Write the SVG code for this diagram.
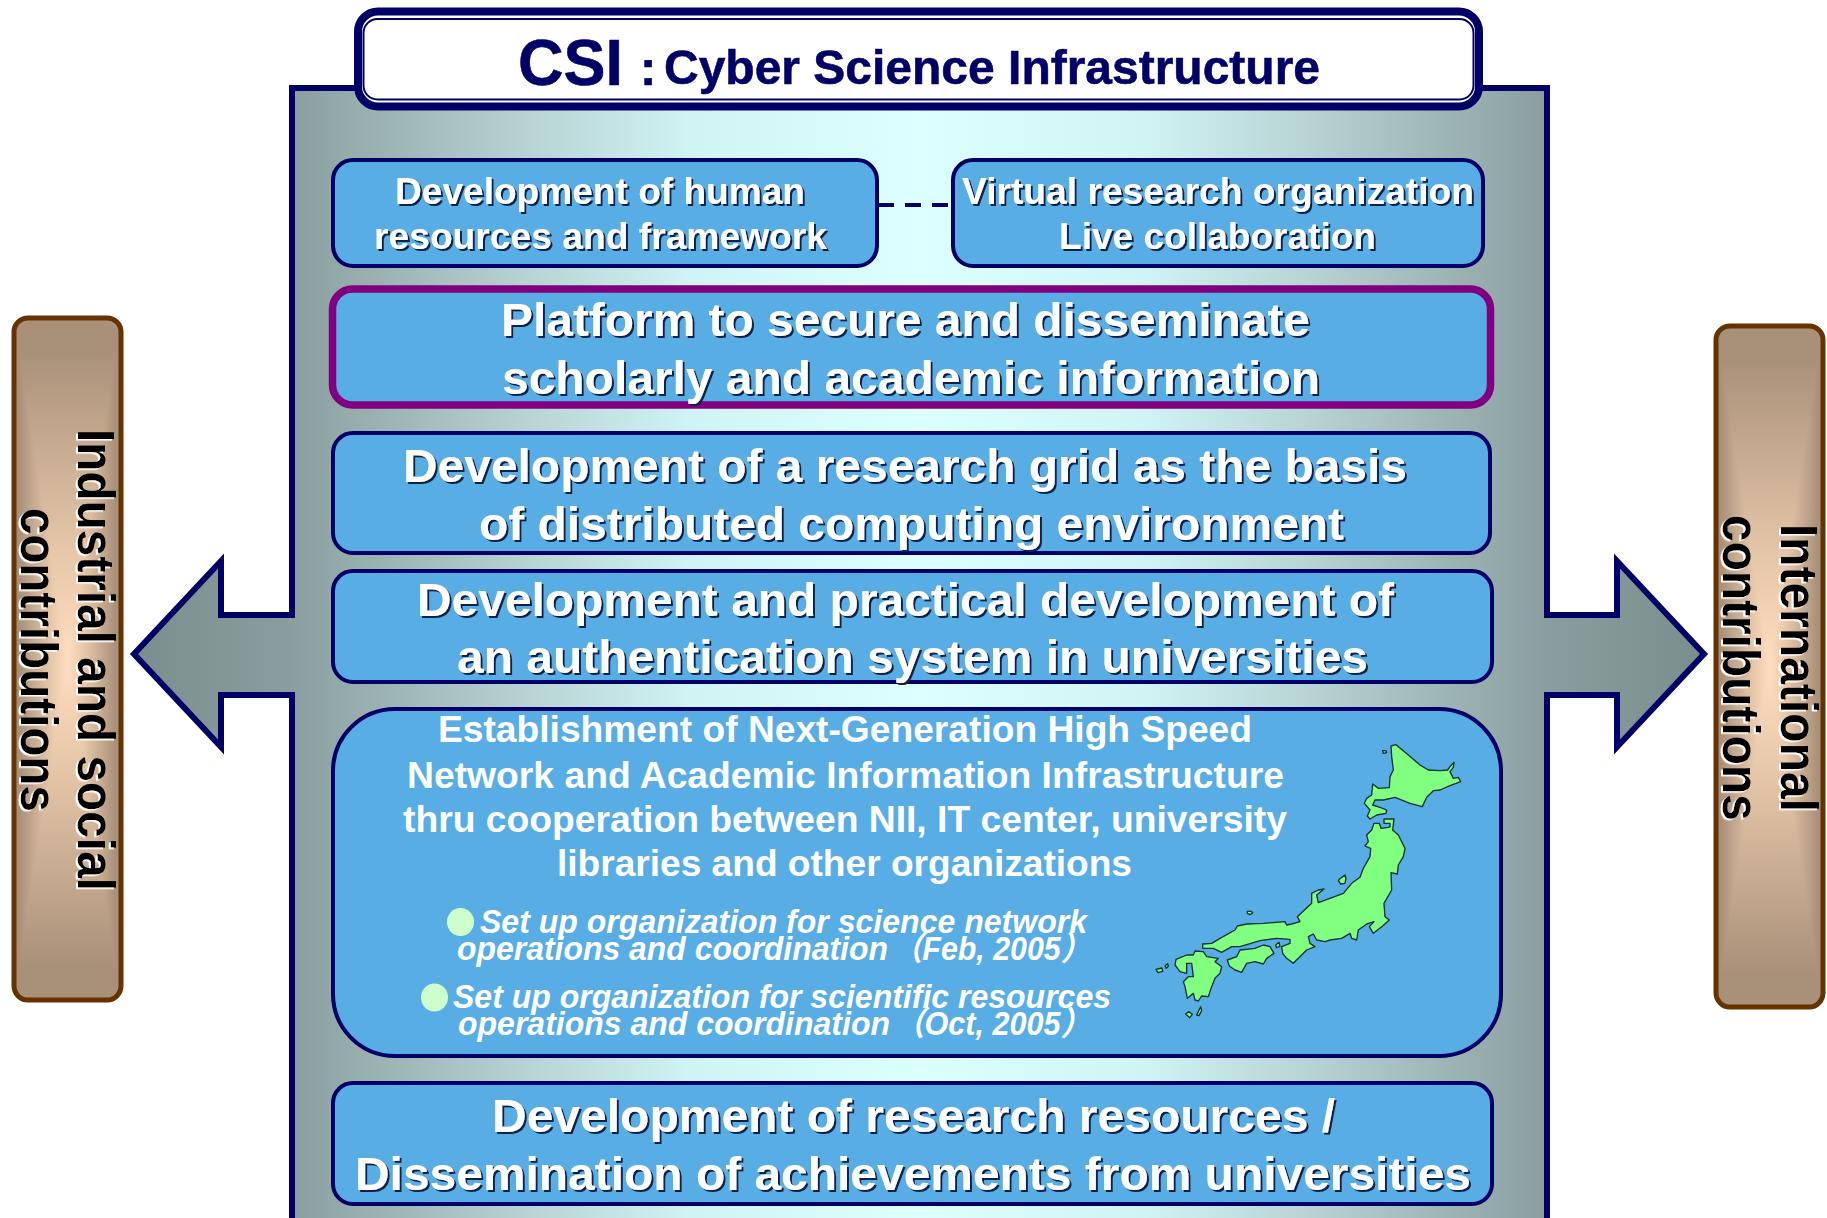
<svg xmlns="http://www.w3.org/2000/svg" width="1827" height="1218" viewBox="0 0 1827 1218">
<defs>
<linearGradient id="panelGrad" gradientUnits="userSpaceOnUse" x1="135" y1="0" x2="1702" y2="0">
<stop offset="0" stop-color="#7a8e8e"/><stop offset="0.1" stop-color="#8a9e9f"/><stop offset="0.25" stop-color="#b8d3d4"/><stop offset="0.355" stop-color="#d0f3f3"/><stop offset="0.5" stop-color="#dcffff"/><stop offset="0.645" stop-color="#d0f3f3"/><stop offset="0.75" stop-color="#b8d3d4"/><stop offset="0.9" stop-color="#8a9e9f"/><stop offset="1" stop-color="#7a8e8e"/>
</linearGradient>
<linearGradient id="sideV" x1="0" y1="0" x2="0" y2="1">
<stop offset="0" stop-color="#a99079"/><stop offset="0.05" stop-color="#a99079"/><stop offset="0.175" stop-color="#c4a98f"/><stop offset="0.35" stop-color="#e8c8aa"/><stop offset="0.5" stop-color="#ffddc0"/><stop offset="0.65" stop-color="#e8c8aa"/><stop offset="0.825" stop-color="#c4a98f"/><stop offset="0.95" stop-color="#a99079"/><stop offset="1" stop-color="#a99079"/>
</linearGradient>
<linearGradient id="sideL" x1="0" y1="0" x2="1" y2="0">
<stop offset="0" stop-color="#a99079"/><stop offset="0.1" stop-color="#a99079"/><stop offset="0.35" stop-color="#c4a98f"/><stop offset="0.7" stop-color="#e8c8aa"/><stop offset="1" stop-color="#ffddc0"/>
</linearGradient>
<linearGradient id="sideR" x1="1" y1="0" x2="0" y2="0">
<stop offset="0" stop-color="#a99079"/><stop offset="0.1" stop-color="#a99079"/><stop offset="0.35" stop-color="#c4a98f"/><stop offset="0.7" stop-color="#e8c8aa"/><stop offset="1" stop-color="#ffddc0"/>
</linearGradient>
<filter id="shadowDark" x="-5%" y="-20%" width="110%" height="140%"><feDropShadow dx="2" dy="2" stdDeviation="0.4" flood-color="#10204a"/></filter>
<filter id="shadowLight" x="-5%" y="-20%" width="110%" height="140%"><feDropShadow dx="1.500" dy="2" stdDeviation="0.3" flood-color="#ffffff"/></filter>
</defs>
<style>
text{font-family:"Liberation Sans","Noto Sans CJK JP",sans-serif;font-weight:bold}
.box{fill:#57ade4;stroke:#000066;stroke-width:4}
.w{fill:#fff;filter:url(#shadowDark)}
.p{fill:#fff}
.s35{font-size:36px}.s46{font-size:47px}.s36{font-size:36px}
.i{fill:#fff;font-size:33px;font-style:italic}
.side{fill:url(#sideV)}
.edge{fill:none;stroke:#663300;stroke-width:5}
.k{fill:#000;font-size:52px;filter:url(#shadowLight)}
.jp{fill:#80ff80;stroke:#143030;stroke-width:4;stroke-linejoin:round}
.t{fill:#000066;stroke:#000066;stroke-width:.6}
</style>
<g id="panel">
<path d="M292,1225 L292,695 L221,695 L221,747 L134,654 L221,561 L221,615 L292,615 L292,88 L1547,88 L1547,615 L1617,615 L1617,561 L1704,654 L1617,747 L1617,695 L1547,695 L1547,1225" fill="url(#panelGrad)" stroke="#000066" stroke-width="6"/>
</g>
<g id="title">
<rect x="358" y="11.500" width="1121" height="95" rx="20" fill="#fff" stroke="#000066" stroke-width="8"/>
<rect x="363.500" y="19" width="1110" height="80.500" rx="14" fill="#fff" stroke="#000066" stroke-width="2"/>
<text class="t"><tspan x="518" y="85" font-size="65" textLength="105" lengthAdjust="spacingAndGlyphs">CSI</tspan><tspan x="640" y="85" font-size="49">:</tspan><tspan x="664" y="84" font-size="49" textLength="656" lengthAdjust="spacingAndGlyphs">Cyber Science Infrastructure</tspan></text>
</g>
<g id="connectors">
<path d="M878,205 H952" fill="none" stroke="#000066" stroke-width="4" stroke-dasharray="16 11"/>
</g>
<g id="human">
<rect class="box" x="333" y="160" width="544" height="106" rx="20"/>
<text class="w s35"><tspan x="395" y="204" textLength="410" lengthAdjust="spacingAndGlyphs">Development of human</tspan><tspan x="374" y="249" textLength="453" lengthAdjust="spacingAndGlyphs">resources and framework</tspan></text>
</g>
<g id="virtual">
<rect class="box" x="953" y="160" width="530" height="106" rx="20"/>
<text class="w s35"><tspan x="962" y="204" textLength="512" lengthAdjust="spacingAndGlyphs">Virtual research organization</tspan><tspan x="1059" y="249" textLength="317" lengthAdjust="spacingAndGlyphs">Live collaboration</tspan></text>
</g>
<g id="platform">
<rect class="box" x="332.500" y="289" width="1158" height="116" rx="20" style="stroke:#800080;stroke-width:7.500"/>
<text class="w s46"><tspan x="501" y="336" textLength="809" lengthAdjust="spacingAndGlyphs">Platform to secure and disseminate</tspan><tspan x="502" y="394" textLength="818" lengthAdjust="spacingAndGlyphs">scholarly and academic information</tspan></text>
</g>
<g id="grid">
<rect class="box" x="333" y="433" width="1157" height="120" rx="20"/>
<text class="w s46"><tspan x="403" y="481.500" textLength="1004" lengthAdjust="spacingAndGlyphs">Development of a research grid as the basis</tspan><tspan x="479" y="539.500" textLength="865" lengthAdjust="spacingAndGlyphs">of distributed computing environment</tspan></text>
</g>
<g id="auth">
<rect class="box" x="333" y="571" width="1159" height="111" rx="20"/>
<text class="w s46"><tspan x="417" y="615.500" textLength="977" lengthAdjust="spacingAndGlyphs">Development and practical development of</tspan><tspan x="457" y="672.500" textLength="911" lengthAdjust="spacingAndGlyphs">an authentication system in universities</tspan></text>
</g>
<g id="network">
<rect class="box" x="333" y="709" width="1168" height="347" rx="62"/>
<text class="p s36"><tspan x="438" y="742" textLength="814" lengthAdjust="spacingAndGlyphs">Establishment of Next-Generation High Speed</tspan><tspan x="407" y="787.500" textLength="877" lengthAdjust="spacingAndGlyphs">Network and Academic Information Infrastructure</tspan><tspan x="403" y="832" textLength="884" lengthAdjust="spacingAndGlyphs">thru cooperation between NII, IT center, university</tspan><tspan x="557" y="876" textLength="575" lengthAdjust="spacingAndGlyphs">libraries and other organizations</tspan></text>
<ellipse cx="460.500" cy="922" rx="13.500" ry="14" fill="#ccffcc"/>
<ellipse cx="434.500" cy="997.500" rx="13.500" ry="14" fill="#ccffcc"/>
<text class="i"><tspan x="480" y="933" textLength="607" lengthAdjust="spacingAndGlyphs">Set up organization for science network</tspan><tspan x="457" y="960" textLength="431" lengthAdjust="spacingAndGlyphs">operations and coordination</tspan><tspan x="892" y="960" textLength="199" lengthAdjust="spacingAndGlyphs">（Feb, 2005）</tspan><tspan x="453" y="1008" textLength="658" lengthAdjust="spacingAndGlyphs">Set up organization for scientific resources</tspan><tspan x="458" y="1035" textLength="432" lengthAdjust="spacingAndGlyphs">operations and coordination</tspan><tspan x="894" y="1035" textLength="197" lengthAdjust="spacingAndGlyphs">（Oct, 2005）</tspan></text>
<g transform="translate(1100 720) scale(.33333)" class="jp">
<path d="M873,78 L888,74 L925,105 L960,135 L985,150 L1020,152 L1043,150 L1050,140 L1062,127 L1060,142 L1050,155 L1060,175 L1075,172 L1082,185 L1050,197 L1020,210 L1000,212 L980,232 L967,260 L930,250 L885,232 L850,240 L825,240 L818,255 L840,262 L860,270 L858,280 L830,285 L810,297 L802,288 L810,270 L793,250 L800,235 L815,225 L818,192 L835,205 L868,203 L870,170 L880,150 L875,110 Z"/>
<path d="M822,310 L838,310 L843,325 L865,322 L870,320 L870,310 L852,310 L852,297 L882,297 L878,330 L895,345 L915,385 L910,410 L895,435 L892,462 L873,458 L875,510 L852,550 L855,590 L868,600 L845,620 L820,640 L808,620 L822,605 L800,612 L775,630 L770,660 L755,655 L750,640 L725,655 L690,660 L675,665 L650,660 L640,642 L625,650 L630,670 L645,680 L620,690 L580,730 L560,715 L548,700 L545,680 L570,670 L570,658 L530,655 L480,662 L420,680 L395,680 L365,697 L340,685 L308,685 L308,672 L335,670 L360,655 L405,630 L412,618 L440,612 L490,610 L555,605 L560,615 L575,612 L600,605 L592,590 L635,550 L635,520 L655,510 L672,507 L650,525 L655,548 L690,535 L730,520 L755,490 L780,472 L790,445 L810,410 L812,385 L795,378 L805,365 L800,345 L815,330 Z"/>
<path d="M382,720 L410,710 L420,690 L465,685 L490,675 L510,680 L522,700 L500,715 L490,732 L465,725 L440,730 L425,757 L405,750 L388,738 Z"/>
<path d="M285,693 L310,695 L320,710 L355,715 L345,725 L365,740 L360,760 L345,775 L335,800 L325,830 L305,828 L295,843 L285,840 L280,820 L262,835 L255,800 L250,785 L265,770 L280,770 L275,730 L260,730 L260,760 L240,755 L225,735 L228,718 L260,705 L280,705 Z"/>
<path d="M718,478 L735,465 L738,475 L735,490 L722,492 L715,482 Z"/>
<path d="M442,574 h12 l4,5 l-8,5 l-8,-4z"/>
<path d="M168,748 l18,-4 l2,10 l-14,4z"/>
<path d="M195,737 l8,-6 l2,8 l-6,6z"/>
<path d="M290,885 l12,-25 l3,12 l-8,15z"/>
<path d="M257,882 l10,-7 l10,8 l-8,10z"/>
<path d="M848,92 h10 l2,6 l-10,2z"/>
<path d="M527,675 l10,-8 l3,12 l-10,4z"/>
</g>
</g>
<g id="resources">
<rect class="box" x="333" y="1083" width="1159" height="121" rx="20"/>
<text class="w s46"><tspan x="492" y="1132" textLength="843" lengthAdjust="spacingAndGlyphs">Development of research resources /</tspan><tspan x="355" y="1189.500" textLength="1116" lengthAdjust="spacingAndGlyphs">Dissemination of achievements from universities</tspan></text>
</g>
<g id="industrial">
<rect class="side" x="14" y="318" width="107" height="682" rx="14"/>
<polygon fill="url(#sideL)" points="14,337 17,337 67.500,659 17,981 14,981"/>
<polygon fill="url(#sideR)" points="121,337 118,337 67.500,659 118,981 121,981"/>
<rect class="edge" x="14" y="318" width="107" height="682" rx="14"/>
<text class="k" transform="translate(78 429) rotate(90)" textLength="462" lengthAdjust="spacingAndGlyphs">Industrial and social</text>
<text class="k" transform="translate(21 508) rotate(90)" textLength="304" lengthAdjust="spacingAndGlyphs">contributions</text>
</g>
<g id="international">
<rect class="side" x="1716" y="326" width="107" height="681" rx="14"/>
<polygon fill="url(#sideL)" points="1716,345 1719,345 1769.500,666.500 1719,988 1716,988"/>
<polygon fill="url(#sideR)" points="1823,345 1820,345 1769.500,666.500 1820,988 1823,988"/>
<rect class="edge" x="1716" y="326" width="107" height="681" rx="14"/>
<text class="k" transform="translate(1781 524) rotate(90)" textLength="288" lengthAdjust="spacingAndGlyphs">International</text>
<text class="k" transform="translate(1723 515) rotate(90)" textLength="306" lengthAdjust="spacingAndGlyphs">contributions</text>
</g>
</svg>
